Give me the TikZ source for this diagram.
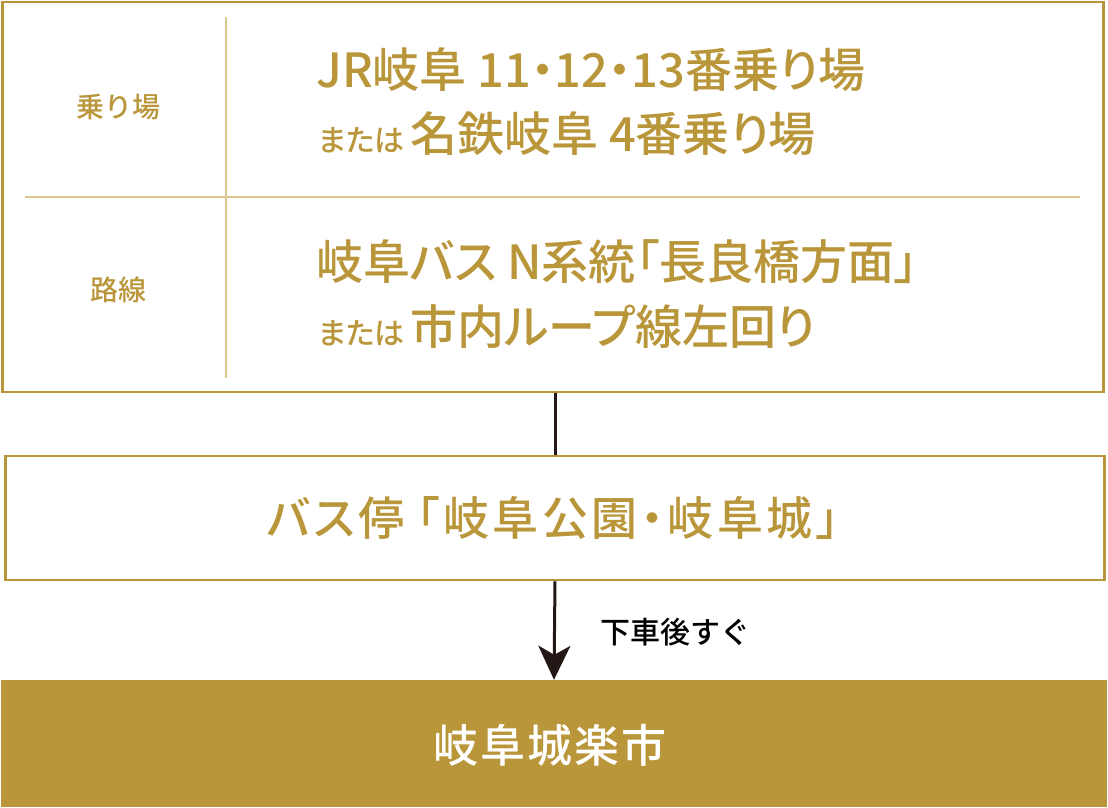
\documentclass[tikz,border=0pt]{standalone}
\usepackage{fontspec}
\setmainfont{Noto Sans CJK JP}
\newfontfamily\med{Noto Sans CJK JP Medium}
\newfontfamily\medp{Noto Sans CJK JP Medium}[RawFeature=+palt]
\usetikzlibrary{arrows.meta}
\definecolor{gold}{RGB}{185,150,58}
\definecolor{goldlight}{RGB}{218,198,140}
\definecolor{ink}{RGB}{35,24,21}
\tikzset{
  x=1pt,y=-1pt,
  framebox/.style={draw=gold,line width=2.5pt,inner sep=0pt},
  divider/.style={draw=goldlight,line width=1.5pt},
  bigtxt/.style={text=gold,font=\medp\fontsize{47}{50}\selectfont,inner sep=0pt,anchor=west},
  smalltxt/.style={text=gold,font=\med\fontsize{28}{30}\selectfont,inner sep=0pt},
  link/.style={draw=ink,line width=3pt},
}
\newcommand{\mata}{{\fontsize{30}{30}\selectfont または}\hspace{6pt}}
\newcommand{\tk}{\kern3.5pt}
\begin{document}
\begin{tikzpicture}
\useasboundingbox (0,0) rectangle (1108,808);
% boxes
\node[framebox,minimum width=1101pt,minimum height=390pt] (topbox) at (553,197) {};
\node[framebox,minimum width=1099pt,minimum height=124pt] (stop) at (555,518) {};
\node[fill=gold,inner sep=0pt,minimum width=1106pt,minimum height=127pt] (dest) at (554,743.5) {};
% dividers
\coordinate (dvt) at (226,17);
\coordinate (dvb) at (226,378);
\coordinate (dhl) at (25,197);
\coordinate (dhr) at (1080,197);
\draw[divider] (dvt) -- (dvb);
\draw[divider] (dhl) -- (dhr);
% left labels
\node[smalltxt] (lab1) at (118,107) {乗り場};
\node[smalltxt] (lab2) at (118,290) {路線};
% right texts
\node[bigtxt] (r1a) at (316,70) {JR岐阜 11・12・13番乗り場};
\node[bigtxt] (r1b) at (318,134) {\mata 名鉄岐阜 4番乗り場};
\node[bigtxt] (r2a) at (316,262) {岐阜バス N系統「長良橋方面」};
\node[bigtxt] (r2b) at (318,327) {\mata 市内ループ線左回り};
% middle
\node[text=gold,font=\medp\fontsize{46}{50}\selectfont,inner sep=0pt] (stoptxt) at (553,518) {バ\tk ス\tk 停\kern12pt「\tk 岐\tk 阜\tk 公\tk 園\tk ・\tk 岐\tk 阜\tk 城\tk 」};
% bottom
\node[text=white,font=\med\fontsize{45}{50}\selectfont,inner sep=0pt] (desttxt) at (550,745) {岐\kern2pt 阜\kern2pt 城\kern2pt 楽\kern2pt 市};
% connectors
\draw[link] (stop.north) -- (stop.north |- topbox.south);
\draw[link,-{Stealth[length=34pt,width=32pt,inset=9pt]}] (stop.south) -- (dest.north);
\node[font=\med\fontsize{30}{30}\selectfont,text=black,inner sep=0pt,anchor=west] (after) at (600,632) {下車後すぐ};
\end{tikzpicture}
\end{document}
